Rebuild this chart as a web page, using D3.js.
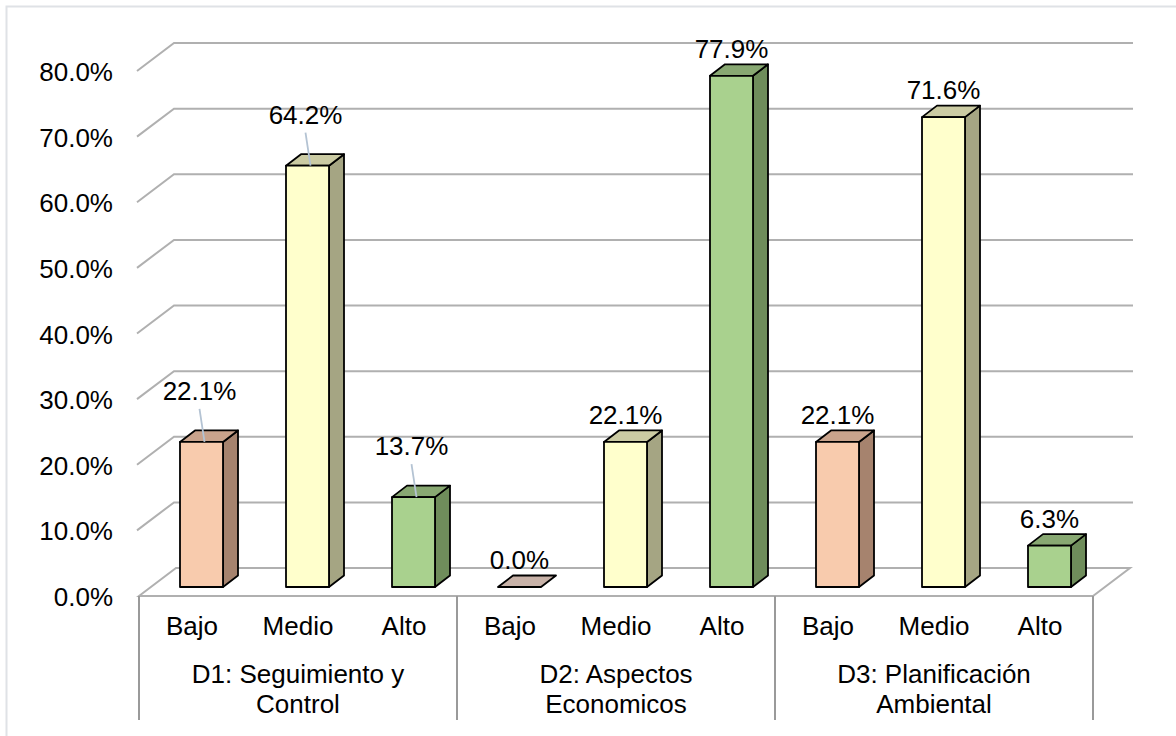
<!DOCTYPE html>
<html>
<head>
<meta charset="utf-8">
<script src="https://cdn.jsdelivr.net/npm/d3@7"></script>
<style>
  html, body { margin: 0; padding: 0; background: #ffffff; }
  svg { display: block; }
  text { font-family: "Liberation Sans", Arial, sans-serif; fill: #000; }
</style>
</head>
<body>
<svg id="chart" width="1176" height="736"></svg>
<script>
// Dimension groups and levels
const groups = ["D1: Seguimiento y Control", "D2: Aspectos Economicos", "D3: Planificación Ambiental"];
const groupLines = [["D1: Seguimiento y", "Control"], ["D2: Aspectos", "Economicos"], ["D3: Planificación", "Ambiental"]];
const levels = ["Bajo", "Medio", "Alto"];

// Percentages per group, in level order
const d1Values = [22.1, 64.2, 13.7];
const d2Values = [0.0, 22.1, 77.9];
const d3Values = [22.1, 71.6, 6.3];
const seriesValues = [d1Values, d2Values, d3Values];

// Y axis ticks
const yTicks = [0, 10, 20, 30, 40, 50, 60, 70, 80];
const yTickLabels = ["0.0%", "10.0%", "20.0%", "30.0%", "40.0%", "50.0%", "60.0%", "70.0%", "80.0%"];

// Labels whose callout is lifted and joined to the bar by a leader line
const leaderLabels = new Set(["D1: Seguimiento y Control|Bajo", "D1: Seguimiento y Control|Medio", "D1: Seguimiento y Control|Alto"]);

// Face colours per level: front, side, top
const levelColors = {
  Bajo:  { front: "#f8cbad", side: "#a6836e", top: "#c9a38c" },
  Medio: { front: "#ffffcc", side: "#a5a583", top: "#cbcba3" },
  Alto:  { front: "#a9d18e", side: "#6f8d5b", top: "#88a872" }
};
const zeroTop = "#c8b2a8";

const FONT = 26;
const svg = d3.select("#chart");

// Outer frame
svg.append("rect").attr("x", 6.5).attr("y", 6.5).attr("width", 1200).attr("height", 800)
  .attr("fill", "none").attr("stroke", "#dfe2e6").attr("stroke-width", 2);

// Floor front edge and depth of the 3D box
const floorX0 = 139, floorX1 = 1093;
const depthX = 37, depthY = 28;
const y = d3.scaleLinear().domain([0, 80]).range([596, 71]);

const rows = [];
groups.forEach((g, gi) => levels.forEach((l, li) => rows.push({ key: g + "|" + l, group: g, level: l, value: seriesValues[gi][li] })));

const x = d3.scaleBand().domain(rows.map(r => r.key)).range([floorX0, floorX1]).paddingInner(0).paddingOuter(0);

const grid = svg.append("g");
const gridColor = "#b0b0b0";
// Back wall gridlines with their left-side diagonals
yTicks.forEach(t => {
  const yf = y(t), yb = y(t) - depthY;
  if (t > 0) {
    grid.append("path")
      .attr("d", `M${floorX0 - 2},${yf} L${floorX0 - 2 + depthX},${yb} L1133,${yb}`)
      .attr("fill", "none").attr("stroke", gridColor).attr("stroke-width", 2);
  }
});
// Floor
grid.append("path")
  .attr("d", `M${floorX0},${y(0)} L${floorX0 + depthX},${y(0) - depthY} L${floorX1 + depthX},${y(0) - depthY} L${floorX1},${y(0)} Z`)
  .attr("fill", "none").attr("stroke", gridColor).attr("stroke-width", 2);

// Y axis labels
svg.append("g").selectAll("text").data(yTicks).join("text")
  .attr("x", 113).attr("y", d => y(d) + 10)
  .attr("text-anchor", "end").attr("font-size", FONT)
  .text((d, i) => yTickLabels[i]);

// Category axis separators
const sepX = [0, 3, 6, 9].map(i => floorX0 + i * x.step());
svg.append("g").selectAll("line").data(sepX).join("line")
  .attr("x1", d => d).attr("x2", d => d).attr("y1", y(0)).attr("y2", 720)
  .attr("stroke", "#9a9a9a").attr("stroke-width", 2);

// Bars
const barW = 43, barDX = 15, barDY = 11.5, barShiftX = 9.5, barShiftY = 9;
const pxPerUnit = y(0) - y(1);
const bars = svg.append("g");
rows.forEach(r => {
  const cx = x(r.key) + x.bandwidth() / 2 + barShiftX;
  const x0 = cx - barW / 2, x1 = cx + barW / 2;
  const yb = y(0) - barShiftY;
  const yt = yb - r.value * pxPerUnit;
  const c = levelColors[r.level];
  r.cx = cx; r.top = yt;
  const g = bars.append("g").attr("stroke", "#000").attr("stroke-width", 1.8).attr("stroke-linejoin", "round");
  if (r.value > 0) {
    g.append("path").attr("fill", c.side)
      .attr("d", `M${x1},${yb} L${x1 + barDX},${yb - barDY} L${x1 + barDX},${yt - barDY} L${x1},${yt} Z`);
    g.append("path").attr("fill", c.top)
      .attr("d", `M${x0},${yt} L${x0 + barDX},${yt - barDY} L${x1 + barDX},${yt - barDY} L${x1},${yt} Z`);
    g.append("rect").attr("fill", c.front).attr("x", x0).attr("y", yt).attr("width", barW).attr("height", yb - yt);
  } else {
    g.append("path").attr("fill", zeroTop)
      .attr("d", `M${x0},${yt} L${x0 + barDX},${yt - barDY} L${x1 + barDX},${yt - barDY} L${x1},${yt} Z`);
  }
});

// Value labels and leader lines
const labels = svg.append("g");
rows.forEach(r => {
  const lifted = leaderLabels.has(r.key);
  const base = r.top - (lifted ? 42 : 18);
  const lx = r.cx + (lifted ? -2 : 0);
  if (lifted) {
    labels.append("line")
      .attr("x1", lx).attr("y1", base + 9).attr("x2", r.cx + 3).attr("y2", r.top)
      .attr("stroke", "#b4c3d3").attr("stroke-width", 1.8);
  }
  labels.append("text").attr("x", lx).attr("y", base)
    .attr("text-anchor", "middle").attr("font-size", FONT)
    .text(r.value.toFixed(1) + "%");
});

// Level labels
svg.append("g").selectAll("text").data(rows).join("text")
  .attr("x", d => x(d.key) + x.bandwidth() / 2).attr("y", 635)
  .attr("text-anchor", "middle").attr("font-size", FONT)
  .text(d => d.level);

// Group labels
groupLines.forEach((lines, gi) => {
  const gx = floorX0 + (gi * 3 + 1.5) * x.step();
  lines.forEach((ln, li) => {
    svg.append("text").attr("x", gx).attr("y", 683 + li * 30)
      .attr("text-anchor", "middle").attr("font-size", FONT).text(ln);
  });
});
</script>
</body>
</html>
